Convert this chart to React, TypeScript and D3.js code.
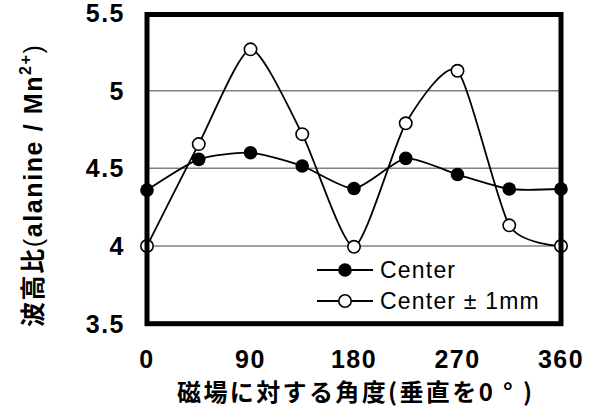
import React from "react";
import * as d3 from "d3";

const angles = [0, 45, 90, 135, 180, 225, 270, 315, 360];
const centerValues = [4.36, 4.558, 4.6, 4.515, 4.37, 4.564, 4.46, 4.367, 4.367];
const offsetValues = [4.0, 4.656, 5.266, 4.72, 3.995, 4.79, 5.128, 4.133, 4.0];
const xTicks = [0, 90, 180, 270, 360];
const yTicks = [3.5, 4, 4.5, 5, 5.5];
const yTickLabels = ["3.5", "4", "4.5", "5", "5.5"];
const gridValues = [4, 4.5, 5];

const W = 594;
const H = 417;
const left = 147;
const right = 561;
const top = 13;
const bottom = 323.7;

const latin = "'Liberation Sans', Arial, sans-serif";
const cjk = "'Noto Sans CJK JP', 'Liberation Sans', sans-serif";

export default function App() {
  const x = d3.scaleLinear().domain([0, 360]).range([left, right]);
  const y = d3.scaleLinear().domain([3.5, 5.5]).range([bottom, top]);

  const line = d3
    .line<number>()
    .x((_, i) => x(angles[i]))
    .y((d) => y(d))
    .curve(d3.curveCardinal.tension(0.35));

  const r = 6.8;

  return (
    <svg
      width={W}
      height={H}
      style={{ position: "absolute", left: 0, top: 0, background: "#fff" }}
    >
      {/* horizontal gridlines */}
      {gridValues.map((v) => (
        <line
          key={v}
          x1={left}
          x2={right}
          y1={y(v)}
          y2={y(v)}
          stroke="#808080"
          strokeWidth={1.5}
        />
      ))}

      {/* Center series */}
      <path d={line(centerValues) || ""} fill="none" stroke="#000" strokeWidth={1.8} />
      {centerValues.map((v, i) => (
        <circle key={"c" + i} cx={x(angles[i])} cy={y(v)} r={r} fill="#000" />
      ))}

      {/* Center ±1mm series */}
      <path d={line(offsetValues) || ""} fill="none" stroke="#000" strokeWidth={1.8} />
      {offsetValues.map((v, i) => (
        <circle
          key={"o" + i}
          cx={x(angles[i])}
          cy={y(v)}
          r={r - 0.6}
          fill="#fff"
          stroke="#000"
          strokeWidth={1.6}
        />
      ))}

      {/* plot frame */}
      <rect
        x={left}
        y={top + 1.5}
        width={right - left}
        height={bottom - top - 1.5}
        fill="none"
        stroke="#000"
        strokeWidth={5}
      />

      {/* y tick labels */}
      {yTicks.map((v, i) => (
        <text
          key={v}
          x={125}
          y={y(v)}
          dy="0.36em"
          textAnchor="end"
          fontFamily={latin}
          fontWeight="bold"
          fontSize={25}
          letterSpacing={1.5}
        >
          {yTickLabels[i]}
        </text>
      ))}

      {/* x tick labels */}
      {xTicks.map((v) => (
        <text
          key={v}
          x={x(v)}
          y={368}
          textAnchor="middle"
          fontFamily={latin}
          fontWeight="bold"
          fontSize={25}
          letterSpacing={1.5}
        >
          {v}
        </text>
      ))}

      {/* x axis title */}
      <text
        x={177}
        y={401}
        fontFamily={cjk}
        fontWeight="bold"
        fontSize={24}
        textLength={355}
        lengthAdjust="spacing"
      >
        磁場に対する角度(垂直を0 ° )
      </text>

      {/* y axis title */}
      <text
        transform="translate(42,327) rotate(-90)"
        fontFamily={latin}
        fontWeight="bold"
        fontSize={25}
        letterSpacing={1.6}
      >
        <tspan fontFamily={cjk}>波高比</tspan>
        <tspan fontWeight="normal">(</tspan>
        <tspan>alanine / Mn</tspan>
        <tspan fontSize={16} dy={-11}>2+</tspan>
        <tspan fontWeight="normal" dy={11}>)</tspan>
      </text>

      {/* legend */}
      <g>
        <line x1={317} x2={373} y1={270} y2={270} stroke="#000" strokeWidth={1.8} />
        <circle cx={345} cy={270} r={r} fill="#000" />
        <text x={380} y={277.5} fontFamily={latin} fontSize={23} letterSpacing={1.2}>
          Center
        </text>
        <line x1={317} x2={373} y1={301} y2={301} stroke="#000" strokeWidth={1.8} />
        <circle cx={345} cy={301} r={r - 0.6} fill="#fff" stroke="#000" strokeWidth={1.6} />
        <text x={380} y={308.5} fontFamily={latin} fontSize={23} letterSpacing={1.2}>
          Center ± 1mm
        </text>
      </g>
    </svg>
  );
}
